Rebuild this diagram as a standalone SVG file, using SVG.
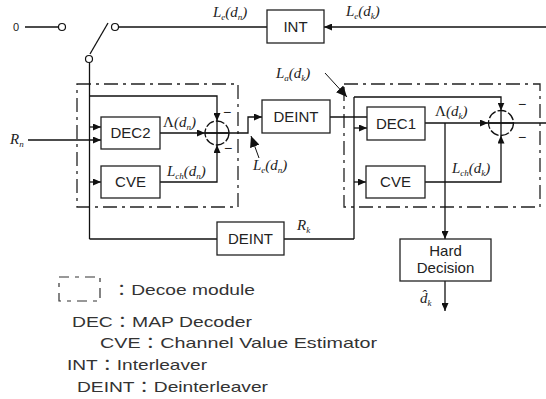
<svg xmlns="http://www.w3.org/2000/svg" width="546" height="399" viewBox="0 0 546 399">
<defs>
<marker id="ah" markerWidth="8" markerHeight="7" refX="8" refY="3.5" orient="auto" markerUnits="userSpaceOnUse"><path d="M0,0 L8,3.5 L0,7 z" fill="#111"/></marker>
<marker id="ahb" markerWidth="11" markerHeight="10" refX="11" refY="5" orient="auto" markerUnits="userSpaceOnUse"><path d="M0,0 L11,5 L0,10 z" fill="#111"/></marker>
<style>
.box{fill:#fff;stroke:#222;stroke-width:1.3}
.mod{fill:none;stroke:#222;stroke-width:1.3;stroke-dasharray:14 5 3 5}
.ln{fill:none;stroke:#111;stroke-width:1.3}
.arr{fill:none;stroke:#111;stroke-width:1.3;marker-end:url(#ah)}
.ptr{fill:none;stroke:#111;stroke-width:1;marker-end:url(#ahb)}
.sum{fill:none;stroke:#111;stroke-width:1.3;stroke-dasharray:9 2}
.t{font-family:"Liberation Sans",Arial,sans-serif;font-size:15px;fill:#222;text-anchor:middle}
.m{font-family:"Liberation Serif","Times New Roman",serif;font-style:italic;font-size:15px;fill:#222}
.s{font-size:9px}
.up{font-style:normal}
.lg{font-family:"Liberation Sans","Noto Sans CJK KR",sans-serif;font-size:15px;fill:#333}
.mn{font-family:"Liberation Sans",sans-serif;font-size:14px;fill:#222}
</style>
</defs>
<rect width="546" height="399" fill="#fff"/>

<g id="modules">
<rect id="module1" class="mod" x="77" y="84" width="161" height="123"/>
<rect id="module2" class="mod" x="344" y="84" width="196" height="123"/>
</g>

<g id="connectors">
<line class="ln" x1="25" y1="27" x2="58.5" y2="27"/>
<line class="ln" x1="118.5" y1="27" x2="267" y2="27"/>
<line class="ln" x1="90" y1="54" x2="108" y2="23"/>
<line class="arr" x1="546" y1="27" x2="324" y2="27"/>
<line class="ln" x1="89.5" y1="62.5" x2="89.5" y2="239"/>
<polyline class="arr" points="89.5,96 217,96 217,121"/>
<line class="arr" x1="89.5" y1="127" x2="101" y2="127"/>
<line class="arr" x1="28" y1="140" x2="101" y2="140"/>
<line class="arr" x1="89.5" y1="182" x2="101" y2="182"/>
<line class="arr" x1="160" y1="133" x2="205" y2="133"/>
<polyline class="arr" points="160,182 217,182 217,145"/>
<polyline class="arr" points="205,133 248,133 248,117 262,117"/>
<line class="ln" x1="89.5" y1="239" x2="217" y2="239"/>
<polyline class="ln" points="284,239 354,239"/>
<line class="ln" x1="330" y1="117" x2="367" y2="117"/>
<line class="ln" x1="354" y1="97" x2="354" y2="239"/>
<polyline class="arr" points="354,97 501,97 501,110.5"/>
<line class="arr" x1="354" y1="128" x2="367" y2="128"/>
<line class="arr" x1="354" y1="182" x2="366" y2="182"/>
<line class="arr" x1="425" y1="123" x2="488" y2="123"/>
<polyline class="arr" points="425,182 501,182 501,135.5"/>
<line class="ln" x1="488" y1="123" x2="546" y2="123"/>
<line class="arr" x1="445" y1="123" x2="445" y2="239"/>
<line class="arr" x1="445" y1="281" x2="445" y2="311"/>
<line class="ptr" x1="259" y1="158" x2="251" y2="136"/>
<line class="ptr" x1="325" y1="73" x2="347" y2="97"/>
</g>

<g id="switch">
<circle cx="62" cy="27" r="3.5" fill="#fff" stroke="#111" stroke-width="1.2"/>
<circle cx="115" cy="27" r="3.5" fill="#fff" stroke="#111" stroke-width="1.2"/>
<circle cx="89" cy="59" r="3.5" fill="#fff" stroke="#111" stroke-width="1.2"/>
<text x="13" y="31" font-family="Liberation Sans,sans-serif" font-size="11" fill="#222">0</text>
</g>

<g id="int"><rect class="box" x="267" y="10" width="57" height="33"/><text class="t" x="295.5" y="32">INT</text></g>
<g id="dec2"><rect class="box" x="101" y="117" width="59" height="32"/><text class="t" x="130.5" y="138">DEC2</text></g>
<g id="cve1"><rect class="box" x="101" y="166" width="59" height="32"/><text class="t" x="130.5" y="187">CVE</text></g>
<g id="sum1">
<circle class="sum" cx="217" cy="133" r="12"/>
<line class="ln" x1="205" y1="133" x2="229" y2="133"/>
<line class="ln" x1="217" y1="121" x2="217" y2="145"/>
<text class="mn" x="223" y="117">−</text>
<text class="mn" x="224" y="153">−</text>
</g>
<g id="deint1"><rect class="box" x="262" y="100" width="68" height="33"/><text class="t" x="296" y="122">DEINT</text></g>
<g id="dec1"><rect class="box" x="367" y="107" width="58" height="33"/><text class="t" x="396" y="129">DEC1</text></g>
<g id="cve2"><rect class="box" x="366" y="166" width="59" height="32"/><text class="t" x="395.5" y="187">CVE</text></g>
<g id="sum2">
<circle class="sum" cx="501" cy="123" r="12.5"/>
<line class="ln" x1="488.5" y1="123" x2="513.5" y2="123"/>
<line class="ln" x1="501" y1="110.5" x2="501" y2="135.5"/>
<text class="mn" x="518" y="109">−</text>
<text class="mn" x="518" y="142">−</text>
</g>
<g id="deint2"><rect class="box" x="217" y="222" width="67" height="33"/><text class="t" x="250.5" y="244">DEINT</text></g>
<g id="hard"><rect class="box" x="400" y="239" width="91" height="42"/><text class="t" x="445.5" y="256">Hard</text><text class="t" x="445.5" y="273">Decision</text></g>

<g id="labels">
<text class="m" x="213" y="17">L<tspan class="s" dy="3">e</tspan><tspan dy="-3">(d</tspan><tspan class="s" dy="3">n</tspan><tspan dy="-3">)</tspan></text>
<text class="m" x="346" y="16">L<tspan class="s" dy="3">e</tspan><tspan dy="-3">(d</tspan><tspan class="s" dy="3">k</tspan><tspan dy="-3">)</tspan></text>
<text class="m" x="276" y="78">L<tspan class="s" dy="3">a</tspan><tspan dy="-3">(d</tspan><tspan class="s" dy="3">k</tspan><tspan dy="-3">)</tspan></text>
<text class="m" x="163" y="127"><tspan class="up">Λ</tspan>(d<tspan class="s" dy="3">n</tspan><tspan dy="-3">)</tspan></text>
<text class="m" x="167" y="176">L<tspan class="s" dy="3">ch</tspan><tspan dy="-3">(d</tspan><tspan class="s" dy="3">n</tspan><tspan dy="-3">)</tspan></text>
<text class="m" x="253" y="170">L<tspan class="s" dy="3">e</tspan><tspan dy="-3">(d</tspan><tspan class="s" dy="3">n</tspan><tspan dy="-3">)</tspan></text>
<text class="m" x="435" y="116"><tspan class="up">Λ</tspan>(d<tspan class="s" dy="3">k</tspan><tspan dy="-3">)</tspan></text>
<text class="m" x="452" y="173">L<tspan class="s" dy="3">ch</tspan><tspan dy="-3">(d</tspan><tspan class="s" dy="3">k</tspan><tspan dy="-3">)</tspan></text>
<text class="m" x="10" y="144">R<tspan class="s" dy="3">n</tspan></text>
<text class="m" x="297" y="230">R<tspan class="s" dy="3">k</tspan></text>
<text class="m" x="420" y="303">d̂<tspan class="s" dy="3">k</tspan></text>
</g>

<g id="legend">
<rect x="59" y="277" width="41" height="24" fill="none" stroke="#333" stroke-width="1.2" stroke-dasharray="10 6 4 6"/>
<text class="lg" x="112" y="295" textLength="143" lengthAdjust="spacingAndGlyphs">：Decoe module</text>
<text class="lg" x="72" y="327" textLength="180" lengthAdjust="spacingAndGlyphs">DEC：MAP Decoder</text>
<text class="lg" x="100" y="348" textLength="277" lengthAdjust="spacingAndGlyphs">CVE：Channel Value Estimator</text>
<text class="lg" x="67" y="370" textLength="140" lengthAdjust="spacingAndGlyphs">INT：Interleaver</text>
<text class="lg" x="77" y="392" textLength="191" lengthAdjust="spacingAndGlyphs">DEINT：Deinterleaver</text>
</g>
</svg>
